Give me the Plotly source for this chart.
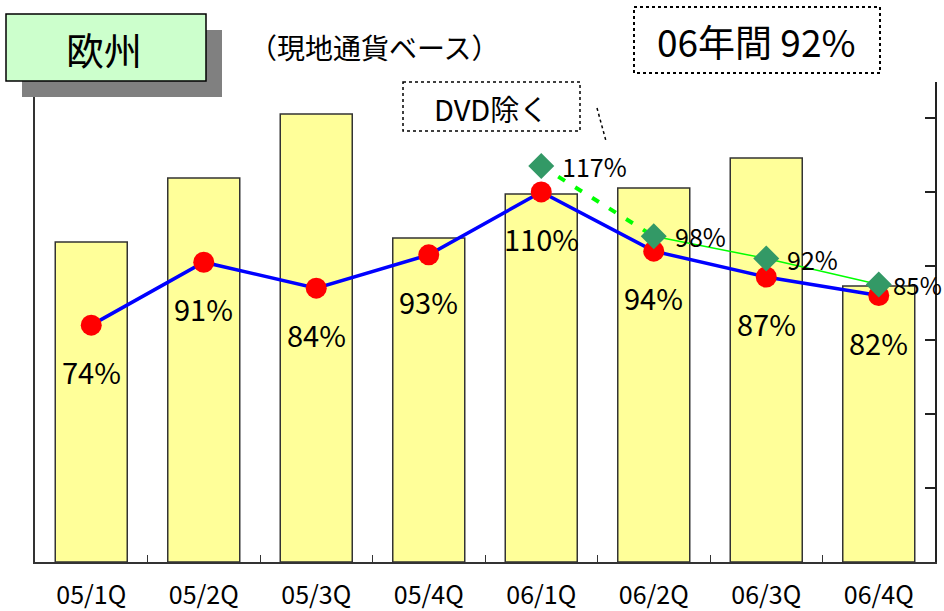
import plotly.graph_objects as go

# ---- data ----
categories = ["05/1Q", "05/2Q", "05/3Q", "05/4Q", "06/1Q", "06/2Q", "06/3Q", "06/4Q"]
sales_index = [80, 96, 112, 81, 92, 93.5, 101, 69]          # bars (left axis, unlabelled)
yoy_pct = [74, 91, 84, 93, 110, 94, 87, 82]                 # blue line / red points
exdvd_cats = ["06/1Q", "06/2Q", "06/3Q", "06/4Q"]
exdvd_pct = [117, 98, 92, 85]                               # green diamonds (DVD除く)
right_ticks = [10, 30, 50, 70, 90, 110, 130]

FONT = "Noto Sans CJK JP"
W, H = 944, 611
L, R, T, B = 35, 935, 82, 562


def px(x):
    return (x - L) / (R - L)


def py(y):
    return (B - y) / (B - T)


fig = go.Figure()

fig.add_trace(go.Bar(
    x=categories, y=sales_index, yaxis="y",
    marker=dict(color="#FFFF99", line=dict(color="#333333", width=1.5)),
    width=0.64, showlegend=False, hoverinfo="skip"))

fig.add_trace(go.Scatter(
    x=categories, y=yoy_pct, yaxis="y2", mode="lines+markers",
    line=dict(color="#0000FF", width=3.5),
    marker=dict(color="#FF0000", size=21, symbol="circle"),
    showlegend=False, cliponaxis=False))

# green: dashed first segment, thin solid for the rest
fig.add_trace(go.Scatter(
    x=exdvd_cats[:2], y=exdvd_pct[:2], yaxis="y2", mode="lines",
    line=dict(color="#00FF00", width=4, dash="8px,12px"),
    showlegend=False, cliponaxis=False))
fig.add_trace(go.Scatter(
    x=exdvd_cats[1:], y=exdvd_pct[1:], yaxis="y2", mode="lines",
    line=dict(color="#00FF00", width=1.5),
    showlegend=False, cliponaxis=False))
fig.add_trace(go.Scatter(
    x=exdvd_cats, y=exdvd_pct, yaxis="y2", mode="markers",
    marker=dict(color="#339966", size=20, symbol="diamond"),
    showlegend=False, cliponaxis=False))

annotations = []
for c, v in zip(categories, yoy_pct):
    annotations.append(dict(x=c, y=v, xref="x", yref="y2", text=f"{v}%",
                            showarrow=False, yshift=-46,
                            font=dict(family=FONT, size=29, color="black")))
for i, (c, v) in enumerate(zip(exdvd_cats, exdvd_pct)):
    last = i == len(exdvd_cats) - 1
    annotations.append(dict(x=c, y=v, xref="x", yref="y2", text=f"{v}%",
                            showarrow=False, xanchor="left", xshift=12 if last else 19,
                            font=dict(family=FONT, size=24 if last else 25, color="black")))

# text boxes
box_text = dict(xref="paper", yref="paper", showarrow=False,
                xanchor="center", yanchor="middle")
annotations += [
    dict(x=px(104), y=py(49), text="欧州",
         font=dict(family=FONT, size=38, color="black"), **box_text),
    dict(x=px(374), y=py(47), text="（現地通貨ベース）",
         font=dict(family=FONT, size=28, color="black"), **box_text),
    dict(x=px(491), y=py(108), text="DVD除く",
         font=dict(family=FONT, size=29, color="black"), **box_text),
    dict(x=px(756), y=py(41), text="06年間 92%",
         font=dict(family=FONT, size=37, color="black"), **box_text),
]

shapes = [
    dict(type="rect", xref="paper", yref="paper", x0=px(22), x1=px(222), y0=py(30), y1=py(97),
         fillcolor="#808080", line=dict(width=0), layer="above"),
    dict(type="rect", xref="paper", yref="paper", x0=px(6), x1=px(206), y0=py(14), y1=py(81),
         fillcolor="#CCFFCC", line=dict(color="black", width=1.5), layer="above"),
    dict(type="rect", xref="paper", yref="paper", x0=px(403), x1=px(580), y0=py(82), y1=py(131),
         fillcolor="white", line=dict(color="black", width=1.5, dash="dot"), layer="below"),
    dict(type="line", xref="paper", yref="paper", x0=px(597), x1=px(606), y0=py(108), y1=py(141),
         line=dict(color="black", width=1.5, dash="dot"), layer="above"),
    dict(type="rect", xref="paper", yref="paper", x0=px(634), x1=px(880), y0=py(7), y1=py(73),
         fillcolor="white", line=dict(color="black", width=2, dash="dot"), layer="below"),
]

fig.update_layout(
    width=W, height=H,
    margin=dict(l=L, r=W - R, t=T, b=H - B, pad=0, autoexpand=False),
    paper_bgcolor="white", plot_bgcolor="white",
    font=dict(family=FONT, color="black"),
    bargap=0.36,
    xaxis=dict(type="category", range=[-0.5, 7.5], showline=True, linecolor="#333333",
               linewidth=2, ticks="inside", tickson="boundaries", ticklen=7,
               tickcolor="#333333", tickwidth=1, showgrid=False, automargin=False,
               tickfont=dict(family=FONT, size=25, color="black"), ticklabelstandoff=10),
    yaxis=dict(range=[0, 120], showline=True, linecolor="#333333", linewidth=1.5,
               showticklabels=False, ticks="", showgrid=False, zeroline=False,
               automargin=False),
    yaxis2=dict(range=[10, 139.7], overlaying="y", side="right", anchor="x",
                showline=True, linecolor="#222222", linewidth=2, automargin=False,
                tickvals=right_ticks, ticks="inside", ticklen=10, tickcolor="#222222",
                tickwidth=1.5, showticklabels=False, showgrid=False, zeroline=False),
    annotations=annotations,
    shapes=shapes,
)

fig.write_html("out.html", config={"displayModeBar": False},
               post_script="document.body.style.margin='0px';document.body.style.overflow='hidden';")
